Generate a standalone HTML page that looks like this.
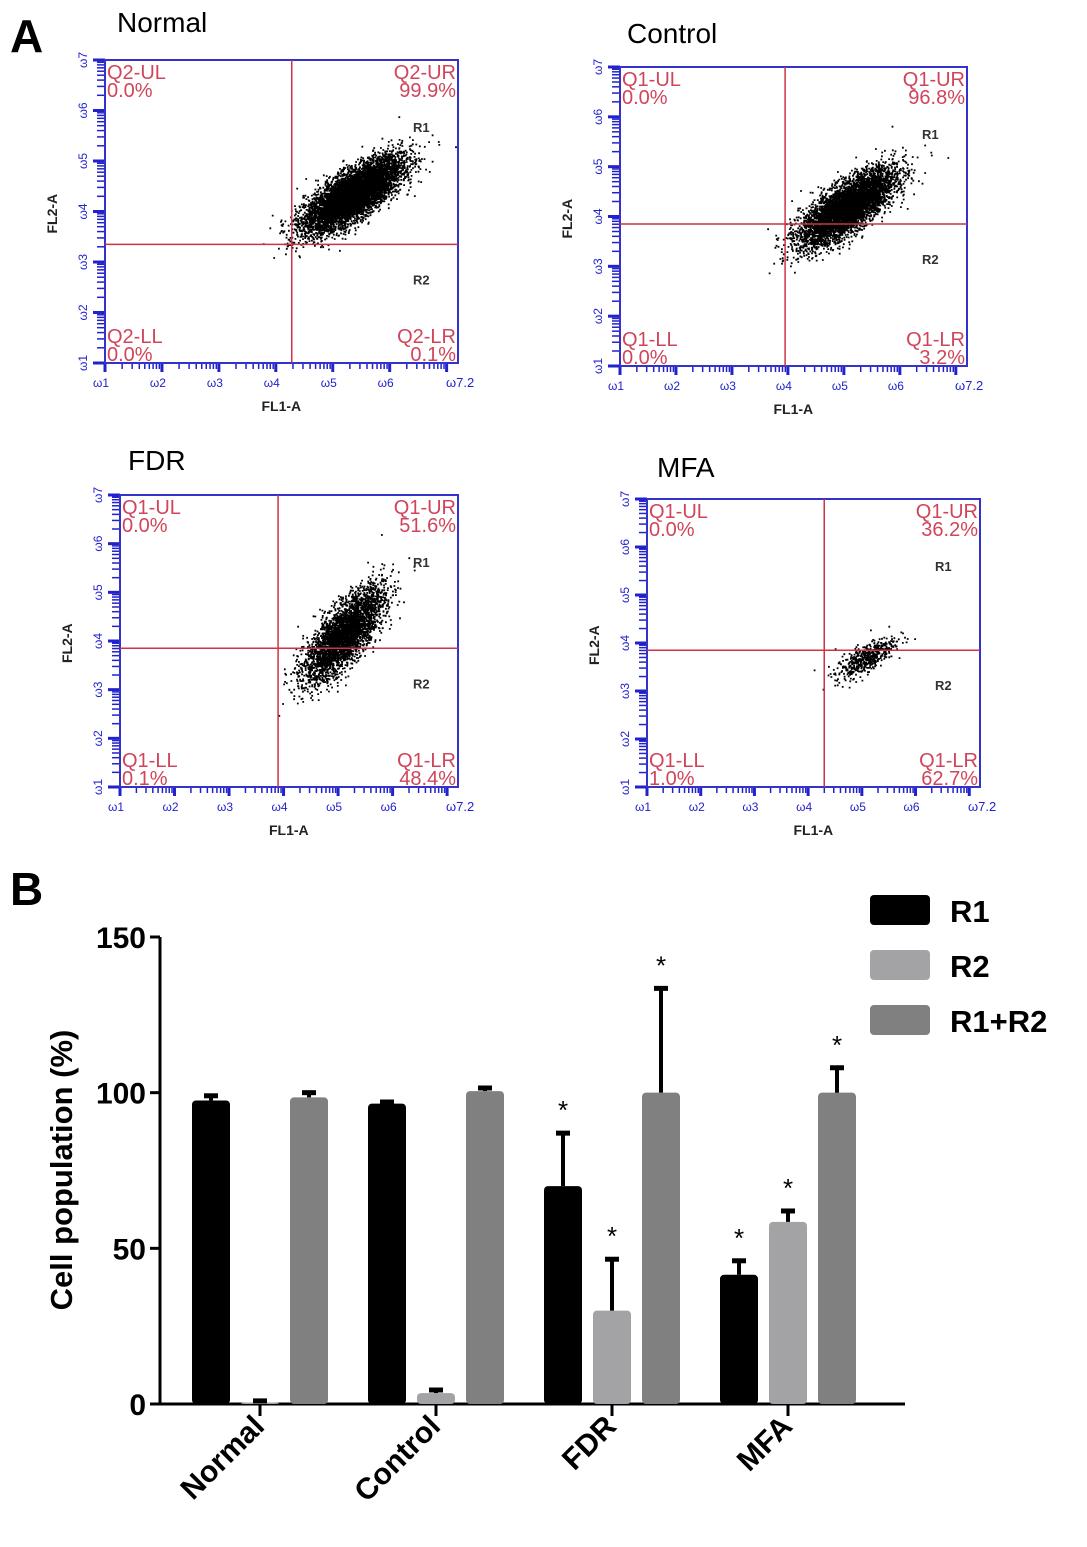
<!DOCTYPE html>
<html><head><meta charset="utf-8"><style>
body{margin:0;background:#fff;width:1087px;height:1547px;overflow:hidden}
svg{display:block}
text{font-family:"Liberation Sans",sans-serif}
</style></head><body>
<svg id="s" width="1087" height="1547" viewBox="0 0 1087 1547">
<text x="10" y="52" font-size="46" font-weight="bold">A</text>
<text x="10" y="905" font-size="46" font-weight="bold">B</text>
<g id="flow"></g>
<g id="bar"></g>
</svg>
<script>
// ---- Flow plots data ----
const plotTitles=["Normal","Control","FDR","MFA"];
const plotPrefix=["Q2","Q1","Q1","Q1"];
const pctUL=["0.0%","0.0%","0.0%","0.0%"];
const pctUR=["99.9%","96.8%","51.6%","36.2%"];
const pctLL=["0.0%","0.0%","0.1%","1.0%"];
const pctLR=["0.1%","3.2%","48.4%","62.7%"];
const gateX=[4.28,3.95,3.9,4.3];
const gateY=[3.35,3.85,3.85,3.85];
const clusterCX=[5.35,5.05,5.1,5.05];
const clusterCY=[4.35,4.2,4.15,3.7];
const clusterSX=[0.42,0.42,0.36,0.28];
const clusterSY=[0.36,0.38,0.48,0.22];
const clusterN=[7000,7000,3500,500];
// layout
const boxes=[[105,60,458,363],[620,67,967,366],[120,495,458,787],[647,499,980,787]];
const titlePos=[[117,32],[627,43],[128,470],[657,477]];
const NS="http://www.w3.org/2000/svg";
function mk(tag,attrs,parent){const e=document.createElementNS(NS,tag);for(const k in attrs)e.setAttribute(k,attrs[k]);parent.appendChild(e);return e;}
let seed=12345;function rnd(){seed=(seed*1103515245+12345)%2147483648;return seed/2147483648;}
function gauss(){let u=rnd()||1e-6,v=rnd();return Math.sqrt(-2*Math.log(u))*Math.cos(2*Math.PI*v);}
const flow=document.getElementById('flow');
plotTitles.forEach((t,i)=>{
  const [x0,y0,x1,y1]=boxes[i];
  const sx=d=>x0+(d-1)/6.2*(x1-x0), sy=d=>y1-(d-1)/6*(y1-y0);
  const g=mk('g',{},flow);
  
  
  const tt=mk('text',{x:titlePos[i][0],y:titlePos[i][1],'font-size':28},g);tt.textContent=t;
  
  for(let d=1;d<7.2;d++){for(let m=1;m<10;m++){const v=d+Math.log10(m);if(v>7.2)break;
    const xx=sx(v);mk('line',{x1:xx,x2:xx,y1:y1,y2:y1+(m==1?9:6),stroke:'#2222cc','stroke-width':m==1?3:1.5},g);
    if(v<=7){const yy=sy(v);mk('line',{x1:x0-(m==1?12:8),x2:x0,y1:yy,y2:yy,stroke:'#2222cc','stroke-width':m==1?3:1.5},g);}}}
  for(let d=1;d<=7;d++){
    if(d<=6){const lb=mk('text',{x:sx(d)-12,y:y1+24,'font-size':12,fill:'#2222cc'},g);lb.textContent='ω'+d;}
    const ly=mk('text',{x:0,y:0,'font-size':12,fill:'#2222cc',transform:`translate(${x0-18},${sy(d)+8}) rotate(-90)`},g);ly.textContent='ω'+d;}
  const l7=mk('text',{x:x1-12,y:y1+24,'font-size':13,fill:'#2222cc'},g);l7.textContent='ω7.2';
  const xl=mk('text',{x:(x0+x1)/2-20,y:y1+48,'font-size':14,'font-weight':'bold',fill:'#222'},g);xl.textContent='FL1-A';
  
  const yl=mk('text',{transform:`translate(${x0-48},${(y0+y1)/2+22}) rotate(-90)`,'font-size':14,'font-weight':'bold',fill:'#222'},g);yl.textContent='FL2-A';
  
  let dots='';const n=clusterN[i];
  for(let k=0;k<n;k++){const a=gauss(),b=gauss();const dx=clusterSX[i]*a,dy=clusterSY[i]*(0.75*a+0.66*b);
    dots+=`M${sx(clusterCX[i]+dx).toFixed(1)},${sy(clusterCY[i]+dy).toFixed(1)}h1.8v1.8h-1.8z`;}
  const dp=mk('path',{d:dots,fill:'#000'},g);
  mk('rect',{x:x0,y:y0,width:x1-x0,height:y1-y0,fill:'none',stroke:'#3333cc','stroke-width':2},g);
  mk('line',{x1:sx(gateX[i]),x2:sx(gateX[i]),y1:y0,y2:y1,stroke:'#cc3344','stroke-width':1.5},g);
  mk('line',{x1:x0,x2:x1,y1:sy(gateY[i]),y2:sy(gateY[i]),stroke:'#cc3344','stroke-width':1.5},g);
  const q=(txt,x,y,anchor)=>{const e=mk('text',{x:x,y:y,'font-size':20,fill:'#d0455a','text-anchor':anchor},g);e.textContent=txt;};
  const p=plotPrefix[i];
  q(p+'-UL',x0+2,y0+19,'start');q(pctUL[i],x0+2,y0+37,'start');
  q(p+'-UR',x1-2,y0+19,'end');q(pctUR[i],x1-2,y0+37,'end');
  q(p+'-LL',x0+2,y1-20,'start');q(pctLL[i],x0+2,y1-2,'start');
  q(p+'-LR',x1-2,y1-20,'end');q(pctLR[i],x1-2,y1-2,'end');
  const r1=mk('text',{x:x1-45,y:y0+72,'font-size':13,'font-weight':'bold',fill:'#333'},g);r1.textContent='R1';
  const r2=mk('text',{x:x1-45,y:sy(gateY[i])+40,'font-size':13,'font-weight':'bold',fill:'#333'},g);r2.textContent='R2';
});

// ---- Bar chart data ----
const categories=["Normal","Control","FDR","MFA"];
const seriesNames=["R1","R2","R1+R2"];
const r1Vals=[97.5,96.5,70,41.5];
const r1Err=[1.5,0.5,17,4.5];
const r2Vals=[0.5,3.5,30,58.5];
const r2Err=[0.5,1,16.5,3.5];
const sumVals=[98.5,100.5,100,100];
const sumErr=[1.5,1,33.5,8];
const r1Star=[false,false,true,true];
const r2Star=[false,false,true,true];
const sumStar=[false,false,true,true];
const yTicks=[0,50,100,150];
const colors=["#000000","#a3a3a6","#808080"];
const bar=document.getElementById('bar');
const Y=v=>1404-v*(1404-937)/150;
const X=i=>260+i*176;
const ax=mk('path',{d:`M160,${Y(150)}V${Y(0)}H905`,fill:'none',stroke:'#000','stroke-width':3},bar);

yTicks.forEach(t=>{mk('line',{x1:150,x2:160,y1:Y(t),y2:Y(t),stroke:'#000','stroke-width':3},bar);
  const e=mk('text',{x:146,y:Y(t)+11,'font-size':30,'font-weight':'bold','text-anchor':'end'},bar);e.textContent=t;
  });
const yt=mk('text',{transform:'translate(72,1170) rotate(-90)','font-size':31,'font-weight':'bold','text-anchor':'middle'},bar);yt.textContent='Cell population (%)';

const vals=[r1Vals,r2Vals,sumVals],errs=[r1Err,r2Err,sumErr],stars=[r1Star,r2Star,sumStar];
categories.forEach((c,i)=>{
  mk('line',{x1:X(i),x2:X(i),y1:Y(0),y2:Y(0)+12,stroke:'#000','stroke-width':3},bar);
  const lb=mk('text',{transform:`translate(${X(i)+6},${Y(0)+24}) rotate(-45)`,'font-size':30,'font-weight':'bold','text-anchor':'end'},bar);lb.textContent=c;
  
  for(let s=0;s<3;s++){
    const cx=X(i)+(s-1)*49,v=vals[s][i],e=errs[s][i];
    const r=mk('rect',{x:cx-19,y:Y(v),width:38,height:Y(0)-Y(v),rx:4,fill:colors[s]},bar);
    
    
    mk('line',{x1:cx,x2:cx,y1:Y(v),y2:Y(v+e),stroke:'#000','stroke-width':4},bar);
    mk('line',{x1:cx-7,x2:cx+7,y1:Y(v+e),y2:Y(v+e),stroke:'#000','stroke-width':5},bar);
    if(stars[s][i]){const st=mk('text',{x:cx,y:Y(v+e)-14,'font-size':26,'text-anchor':'middle'},bar);st.textContent='*';
      }
  }
});
seriesNames.forEach((n,s)=>{
  const y=895+s*55;
  const g=mk('g',{},bar);
  mk('rect',{x:870,y:y,width:60,height:30,rx:4,fill:colors[s]},g);
  const t=mk('text',{x:950,y:y+27,'font-size':31,'font-weight':'bold'},g);t.textContent=n;
});
</script>
</body></html>
